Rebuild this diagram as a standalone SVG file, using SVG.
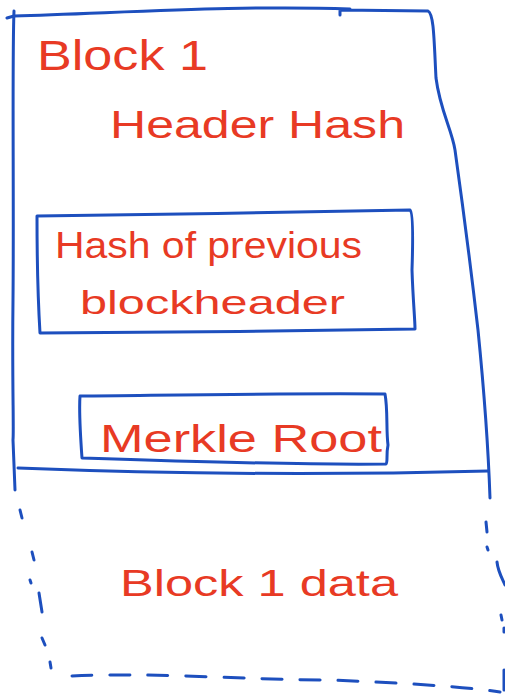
<svg xmlns="http://www.w3.org/2000/svg" width="505" height="695" viewBox="0 0 505 695">
  <style>
    .ink { fill: none; stroke: #1d4fbe; stroke-width: 3; stroke-linecap: round; stroke-linejoin: round; }
    .dash { stroke-dasharray: 20 18; }
    .label { fill: #e83a24; font-family: "Liberation Sans", Arial, sans-serif; font-weight: normal; }
  </style>
  <rect width="505" height="695" fill="#ffffff"/>

  <!-- header block -->
  <g id="block-header">
    <path class="ink" d="M7,18 L14,16 C120,13 240,5 350,9 L340,10 L340,15 M340,10 L428,11 C434,14 434,40 436,78 C440,110 452,130 455,150 C462,200 470,260 478,330 C484,390 488,440 490,498"/>
    <path class="ink" d="M14,11 C12,60 14,200 13,300 C12,380 14,430 13,440 L15,490"/>
    <path class="ink" d="M18,468 C120,472 300,476 488,471"/>
    <text class="label" x="37" y="70" font-size="42" textLength="171" lengthAdjust="spacingAndGlyphs">Block 1</text>
    <text class="label" x="110" y="138" font-size="38" textLength="295" lengthAdjust="spacingAndGlyphs">Header Hash</text>
  </g>

  <!-- previous block hash field -->
  <g id="prev-hash">
    <path class="ink" d="M37,216 C150,215 300,212 410,210 C413,212 413,240 412,270 C413,300 415,320 415,329 C300,331 150,333 40,333 C38,300 37,250 37,216 Z"/>
    <text class="label" x="55" y="258" font-size="36" textLength="307" lengthAdjust="spacingAndGlyphs">Hash of previous</text>
    <text class="label" x="80" y="314" font-size="34" textLength="265" lengthAdjust="spacingAndGlyphs">blockheader</text>
  </g>

  <!-- merkle root field -->
  <g id="merkle-root">
    <path class="ink" d="M80,396 C180,395 300,393 385,394 C388,410 386,430 388,445 C386,455 388,462 386,464 C300,465 200,462 82,458 C80,430 79,410 80,396 Z"/>
    <text class="label" x="100" y="452" font-size="38" textLength="282" lengthAdjust="spacingAndGlyphs">Merkle Root</text>
  </g>

  <!-- block body -->
  <g id="block-data">
    <path class="ink" d="M20,510 L22,518"/>
    <path class="ink" d="M32,552 L34,560"/>
    <path class="ink" d="M30,580 L31,583"/>
    <path class="ink" d="M39,593 L42,612"/>
    <path class="ink" d="M42,638 L45,645"/>
    <path class="ink" d="M50,662 L51,668"/>
    <path class="ink dash" d="M72,676 C150,672 250,680 330,680 C400,683 460,686 500,692"/>
    <path class="ink" d="M486,522 L487,532"/>
    <path class="ink" d="M487,547 L488,550"/>
    <path class="ink" d="M497,562 C498,572 503,580 505,585"/>
    <path class="ink" d="M501,615 L502,620"/>
    <path class="ink" d="M504,628 L504,632"/>
    <path class="ink" d="M504,670 L504,690"/>
    <text class="label" x="120" y="596" font-size="36" textLength="278" lengthAdjust="spacingAndGlyphs">Block 1 data</text>
  </g>
</svg>
